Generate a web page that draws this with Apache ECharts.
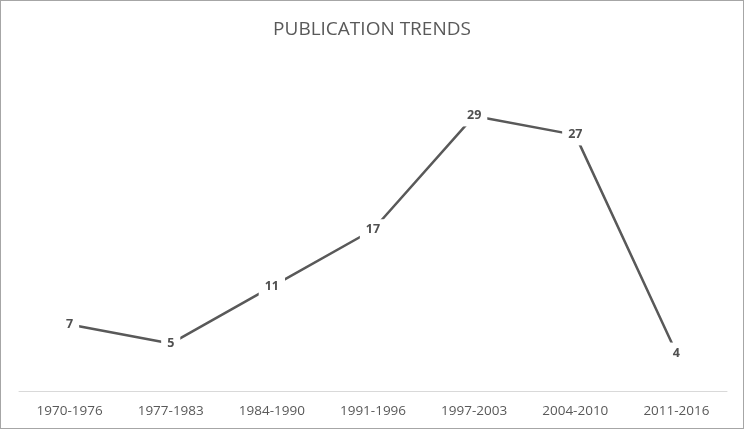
<!DOCTYPE html>
<html>
<head>
<meta charset="utf-8">
<script src="https://cdn.jsdelivr.net/npm/echarts@6/dist/echarts.min.js"></script>
<style>
	html, body { margin: 0; padding: 0; background: #fff; }
	#chart { width: 742px; height: 427px; border: 1px solid #a6a6a6; }
</style>
</head>
<body>
<div id="chart"></div>
<script>
var periods = ["1970-1976", "1977-1983", "1984-1990", "1991-1996", "1997-2003", "2004-2010", "2011-2016"];
var publications = [7, 5, 11, 17, 29, 27, 4];

var myChart = echarts.init(document.getElementById('chart'));
var option = {
	animation: false,
	title: {
		text: 'PUBLICATION TRENDS',
		left: 'center',
		top: 14,
		textStyle: {
			fontFamily: 'Open Sans',
			fontWeight: 'normal',
			fontSize: 19,
			color: '#595959'
		}
	},
	grid: {
		left: 18,
		right: 16,
		top: 58,
		bottom: 37
	},
	xAxis: {
		type: 'category',
		data: periods,
		axisLine: { lineStyle: { color: '#d9d9d9', width: 1 } },
		axisTick: { show: false },
		axisLabel: {
			fontFamily: 'Open Sans',
			fontSize: 13.5,
			color: '#595959',
			margin: 13
		}
	},
	yAxis: {
		type: 'value',
		min: 0,
		max: 35,
		show: false,
		splitLine: { show: false }
	},
	series: [{
		type: 'line',
		data: publications,
		symbol: 'circle',
		symbolSize: 1,
		showSymbol: true,
		itemStyle: { color: 'rgba(0,0,0,0)' },
		lineStyle: { color: '#595959', width: 2.5 },
		label: {
			show: true,
			position: 'inside',
			fontFamily: 'Open Sans',
			fontWeight: 'bold',
			fontSize: 12.5,
			color: '#505050',
			backgroundColor: '#fff',
			padding: [4, 6]
		}
	}]
};
myChart.setOption(option);
</script>
</body>
</html>
